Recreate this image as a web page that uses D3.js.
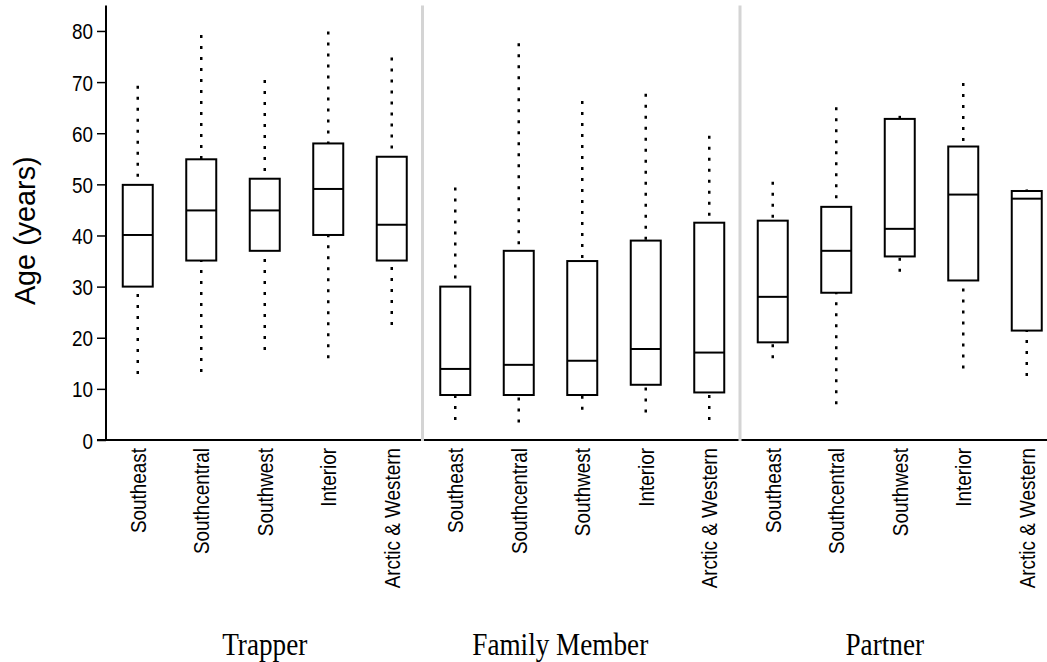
<!DOCTYPE html>
<html>
<head>
<meta charset="utf-8">
<script src="https://cdn.jsdelivr.net/npm/d3@7"></script>
<style>
  html, body { margin: 0; padding: 0; background: #fff; }
  svg { display: block; }
</style>
</head>
<body>
<svg id="chart" width="1047" height="662"></svg>
<script>
// ---- data ----
const groups = ["Trapper", "Family Member", "Partner"];
const regions = ["Southeast", "Southcentral", "Southwest", "Interior", "Arctic & Western"];
// order: Trapper x5, Family Member x5, Partner x5
const whiskerLow  = [12.9, 13.3, 17.6, 16.0, 22.5,   3.9, 3.4, 5.9, 5.4, 3.9,    16.0, 7.0, 32.9, 14.0, 12.5];
const q1          = [30.0, 35.1, 37.0, 40.1, 35.1,   8.8, 8.8, 8.8, 10.8, 9.3,   19.1, 28.8, 35.9, 31.2, 21.4];
const medians     = [40.1, 44.9, 44.9, 49.1, 42.1,   13.9, 14.7, 15.5, 17.8, 17.1, 28.0, 37.0, 41.3, 48.0, 47.2];
const q3          = [49.9, 54.9, 51.1, 58.0, 55.4,   30.0, 37.0, 35.0, 39.0, 42.5, 42.9, 45.6, 62.8, 57.4, 48.7];
const whiskerHigh = [69.3, 79.2, 70.4, 79.9, 74.8,   49.4, 77.6, 66.3, 67.7, 59.5, 50.5, 65.1, 63.4, 69.8, 49.0];
const yTicks = [0, 10, 20, 30, 40, 50, 60, 70, 80];
const yTitle = "Age (years)";

// ---- build rows ----
const rows = [];
groups.forEach((g, gi) => {
  regions.forEach((r, ri) => {
    const i = gi * regions.length + ri;
    rows.push({ key: g + "|" + r, group: g, region: r,
      lo: whiskerLow[i], q1: q1[i], med: medians[i], q3: q3[i], hi: whiskerHigh[i] });
  });
});

const sans = "Liberation Sans, Arial, sans-serif";
const serif = "Liberation Serif, Times New Roman, serif";
const svg = d3.select("#chart");
const axisX = 106, axisY = 440;
const x = d3.scaleBand().domain(rows.map(d => d.key)).range([axisX, axisX + 15 * 63.5]).padding(0);
const y = d3.scaleLinear().domain([0, 85]).range([axisY, 5.4]);
const boxW = 30;

// y axis
const yAxis = svg.append("g").attr("transform", `translate(${axisX},0)`)
  .call(d3.axisLeft(y).tickValues(yTicks).tickSize(9).tickPadding(5).tickFormat(d3.format("d")));
yAxis.select(".domain").attr("d", `M0,${y(85)}V${axisY}`).attr("stroke", "#000").attr("stroke-width", 2);
yAxis.selectAll(".tick line").attr("stroke", "#000").attr("stroke-width", 1.5);
yAxis.selectAll(".tick text")
  .attr("x", null).attr("dy", null)
  .attr("transform", "translate(-13,8) scale(0.84,1)")
  .attr("font-family", sans).attr("font-size", 22.5).attr("fill", "#000");

// x axis line
svg.append("line").attr("x1", axisX - 9).attr("x2", 1047).attr("y1", axisY).attr("y2", axisY)
  .attr("stroke", "#000").attr("stroke-width", 2);

// panel separators
groups.slice(1).forEach((g) => {
  const sx = x(g + "|" + regions[0]) - 1;
  svg.append("line").attr("x1", sx).attr("x2", sx).attr("y1", y(85)).attr("y2", axisY + 1)
    .attr("stroke", "#d4d4d4").attr("stroke-width", 3);
});

// boxes
const bx = svg.append("g");
const cx = d => x(d.key) + x.bandwidth() / 2;
bx.selectAll(".wu").data(rows).join("line")
  .attr("x1", cx).attr("x2", cx).attr("y1", d => y(d.hi)).attr("y2", d => y(d.q3))
  .attr("stroke", "#000").attr("stroke-width", 2.5).attr("stroke-dasharray", "3,8");
bx.selectAll(".wl").data(rows).join("line")
  .attr("x1", cx).attr("x2", cx).attr("y1", d => y(d.lo)).attr("y2", d => y(d.q1))
  .attr("stroke", "#000").attr("stroke-width", 2.5).attr("stroke-dasharray", "3,8");
bx.selectAll("rect").data(rows).join("rect")
  .attr("x", d => cx(d) - boxW / 2).attr("width", boxW)
  .attr("y", d => y(d.q3)).attr("height", d => y(d.q1) - y(d.q3))
  .attr("fill", "#fff").attr("stroke", "#000").attr("stroke-width", 2);
bx.selectAll(".med").data(rows).join("line")
  .attr("x1", d => cx(d) - boxW / 2).attr("x2", d => cx(d) + boxW / 2)
  .attr("y1", d => y(d.med)).attr("y2", d => y(d.med))
  .attr("stroke", "#000").attr("stroke-width", 2);

// category labels
const catFs = 22.5;
svg.append("g").selectAll("text").data(rows).join("text")
  .attr("transform", d => `translate(${cx(d) + 0.36 * catFs},${axisY + 8}) rotate(-90) scale(0.84,1)`)
  .attr("text-anchor", "end")
  .attr("font-family", sans).attr("font-size", catFs)
  .attr("fill", "#000").text(d => d.region);

// group labels (anchored under the third region of each panel, nudged as in the original)
const groupNudge = [0, -22, -15];
svg.append("g").selectAll("text").data(groups).join("text")
  .attr("transform", (g, i) => `translate(${x(g + "|" + regions[2]) + x.bandwidth() / 2 + groupNudge[i]},655) scale(0.85,1)`)
  .attr("text-anchor", "middle")
  .attr("font-family", serif).attr("font-size", 32)
  .attr("fill", "#000").text(g => g);

// y title
svg.append("text").attr("transform", `translate(35,${(y(85) + axisY) / 2 + 8}) rotate(-90) scale(0.96,1)`)
  .attr("text-anchor", "middle")
  .attr("font-family", sans).attr("font-size", 30)
  .attr("fill", "#000").text(yTitle);
</script>
</body>
</html>
